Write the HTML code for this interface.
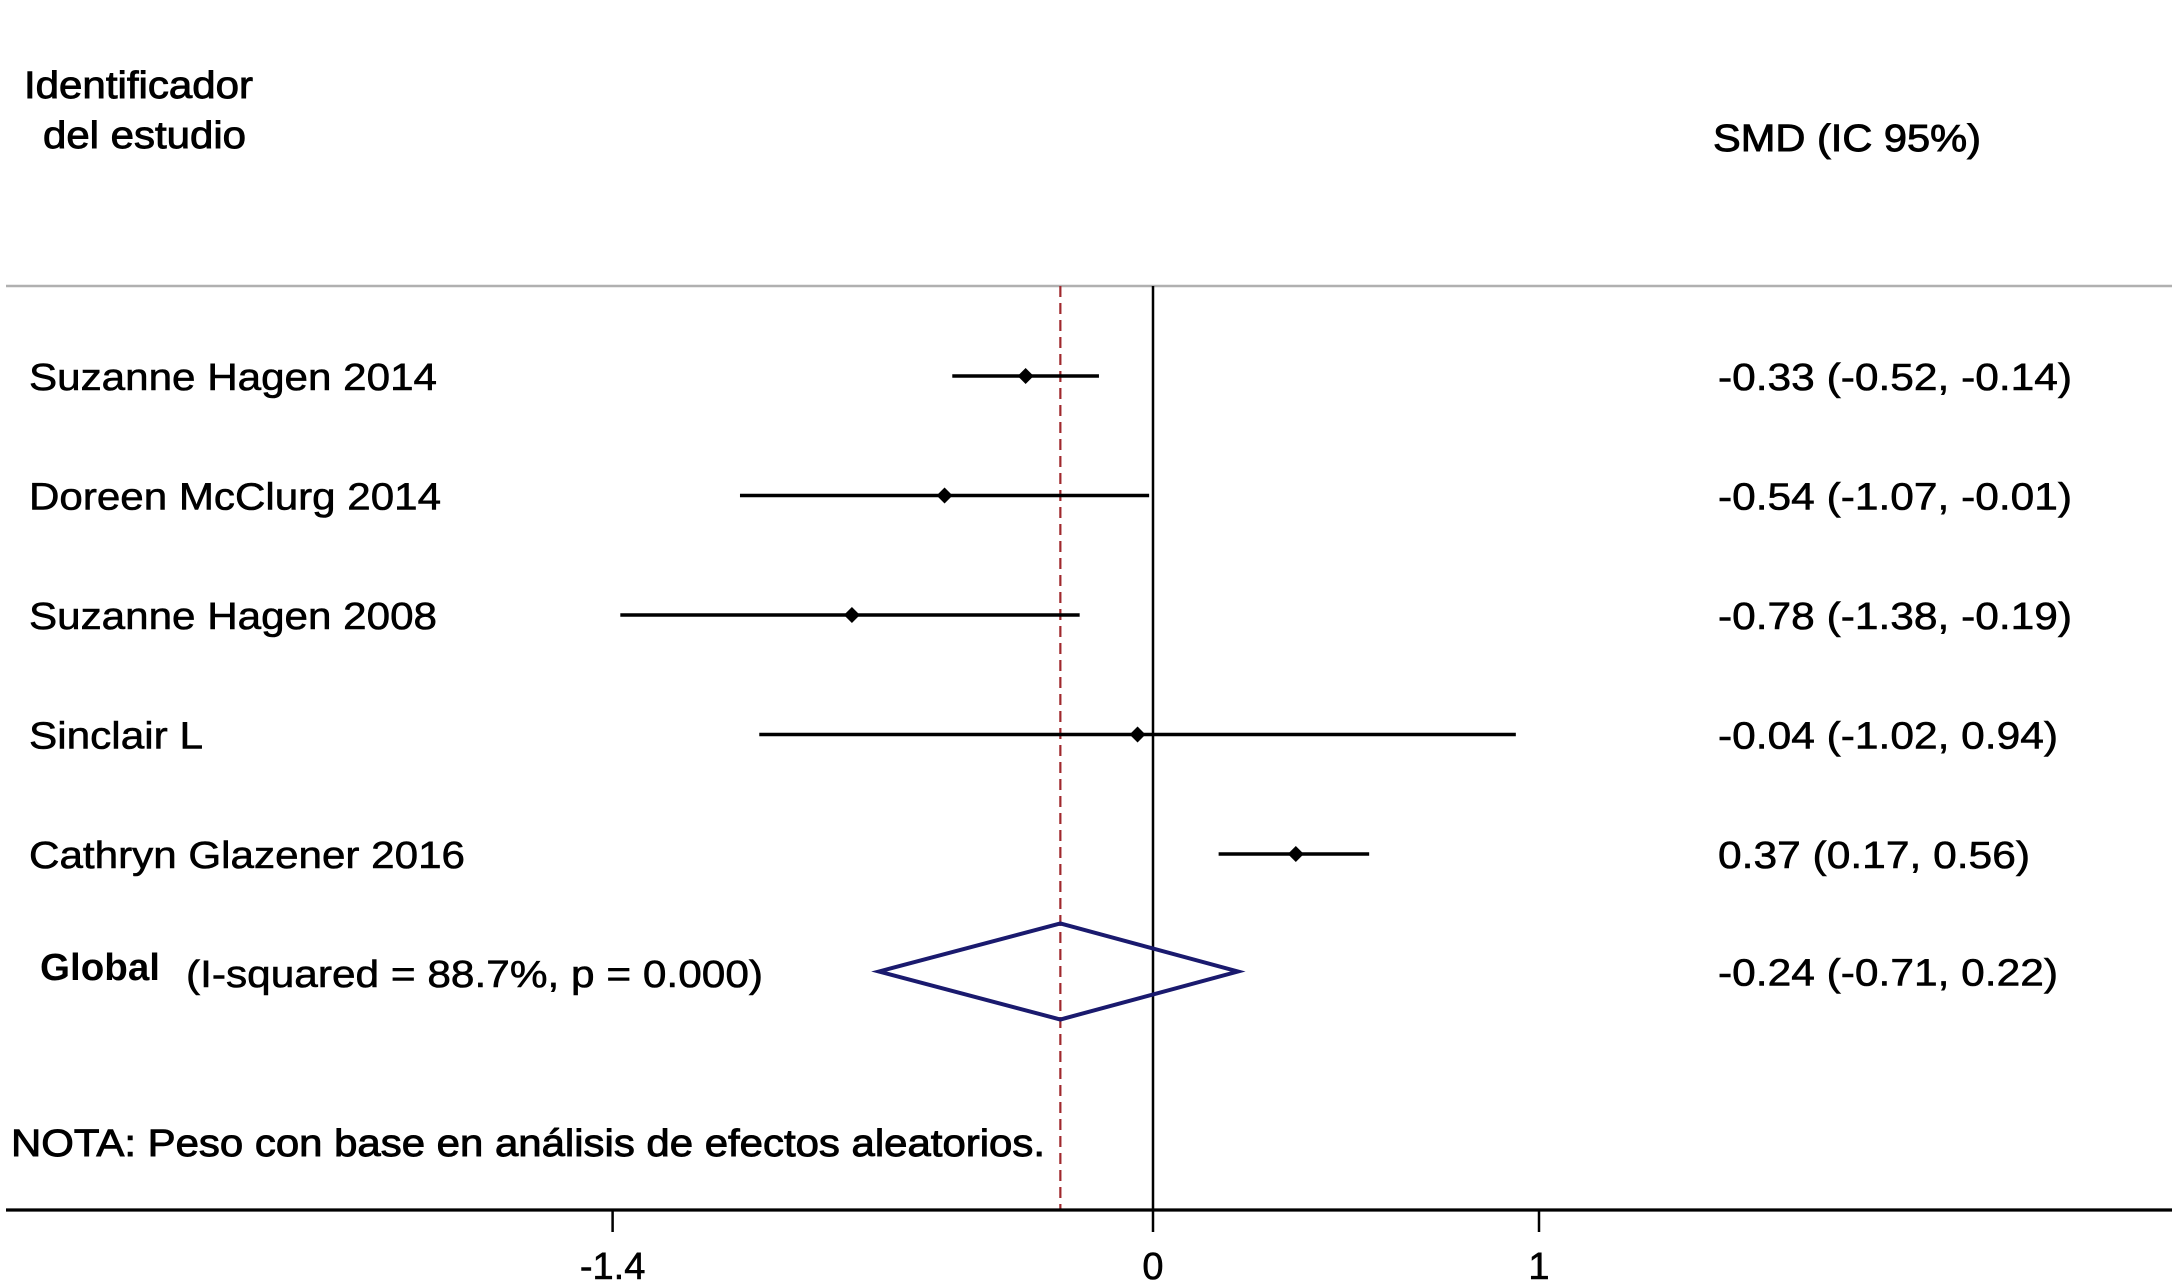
<!DOCTYPE html>
<html><head><meta charset="utf-8"><style>
html,body{margin:0;padding:0;background:#fff;}
svg{display:block;font-family:"Liberation Sans",Arial,sans-serif;}
svg text{stroke:#000;stroke-width:0.6;}
</style></head><body>
<svg id="chart" width="2175" height="1285" viewBox="0 0 2175 1285" xmlns="http://www.w3.org/2000/svg">
<rect width="2175" height="1285" fill="#fff"/>
<text x="24" y="98" font-size="38" textLength="229" lengthAdjust="spacingAndGlyphs" style="stroke-width:0.9">Identificador</text>
<text x="43" y="148" font-size="38" textLength="203" lengthAdjust="spacingAndGlyphs" style="stroke-width:0.9">del estudio</text>
<text x="1713" y="151" font-size="38" textLength="268" lengthAdjust="spacingAndGlyphs" style="stroke-width:0.9">SMD (IC 95%)</text>
<line x1="6" y1="286" x2="2172" y2="286" stroke="#b0b0b0" stroke-width="2.5"/>
<g id="marks"></g>
<text x="40" y="980" font-size="38" font-weight="bold" textLength="120" lengthAdjust="spacingAndGlyphs" style="stroke-width:0">Global</text>
<text x="186" y="987" font-size="38" textLength="577" lengthAdjust="spacingAndGlyphs">(I-squared = 88.7%, p = 0.000)</text>
<text x="11" y="1156" font-size="38" textLength="1034" lengthAdjust="spacingAndGlyphs" style="stroke-width:0.9">NOTA: Peso con base en análisis de efectos aleatorios.</text>
</svg>
<script>
const studies = ["Suzanne Hagen 2014","Doreen McClurg 2014","Suzanne Hagen 2008","Sinclair L","Cathryn Glazener 2016"];
const est = [-0.33,-0.54,-0.78,-0.04,0.37];
const lo = [-0.52,-1.07,-1.38,-1.02,0.17];
const hi = [-0.14,-0.01,-0.19,0.94,0.56];
const ciText = ["-0.33 (-0.52, -0.14)","-0.54 (-1.07, -0.01)","-0.78 (-1.38, -0.19)","-0.04 (-1.02, 0.94)","0.37 (0.17, 0.56)"];
const pooled = [-0.24,-0.71,0.22];
const pooledText = "-0.24 (-0.71, 0.22)";
const ticks = [-1.4,0,1];
const tickLabels = ["-1.4","0","1"];

const NS="http://www.w3.org/2000/svg";
const g=document.getElementById('marks');
const X=v=>1153+v*386;
const rowY=i=>376+i*119.5;
function mk(t,a,p){const e=document.createElementNS(NS,t);for(const k in a)e.setAttribute(k,a[k]);(p||g).appendChild(e);return e;}
const nameW=[408,412,408,174,436];
const ciW=[354,354,354,340,312];
let l=mk('line',{x1:X(0),y1:286,x2:X(0),y2:1210,stroke:'#000','stroke-width':2.5});


l=mk('line',{x1:X(pooled[0]),y1:286,x2:X(pooled[0]),y2:1210,stroke:'#a0282d','stroke-width':2.2,'stroke-dasharray':'11,6'});


studies.forEach((s,i)=>{
  const y=rowY(i);
  let t=mk('text',{x:29,y:y+14,'font-size':38,textLength:nameW[i],lengthAdjust:'spacingAndGlyphs'});t.textContent=s;
  
  
  let c=mk('line',{x1:X(lo[i]),y1:y,x2:X(hi[i]),y2:y,stroke:'#000','stroke-width':3.6});
  
  
  const px=X(est[i]);
  let d=mk('polygon',{points:`${px-8},${y} ${px},${y-8} ${px+8},${y} ${px},${y+8}`,fill:'#000'});
  
  
  let r=mk('text',{x:1718,y:y+14,'font-size':38,textLength:ciW[i],lengthAdjust:'spacingAndGlyphs'});r.textContent=ciText[i];
  
  
});
const gy=rowY(5)-2;
let dm=mk('polygon',{points:`${X(pooled[1])},${gy} ${X(pooled[0])},${gy-48} ${X(pooled[2])},${gy} ${X(pooled[0])},${gy+48}`,fill:'none',stroke:'#1a1a6e','stroke-width':4});


let pt=mk('text',{x:1718,y:gy+14,'font-size':38,textLength:340,lengthAdjust:'spacingAndGlyphs'});pt.textContent=pooledText;


let ax=mk('line',{x1:6,y1:1210,x2:2172,y2:1210,stroke:'#000','stroke-width':3.2});


ticks.forEach((v,i)=>{
  let tk=mk('line',{x1:X(v),y1:1210,x2:X(v),y2:1232,stroke:'#000','stroke-width':2.5});
  
  
  let tl=mk('text',{x:X(v),y:1279,'font-size':38,'text-anchor':'middle'});tl.textContent=tickLabels[i];
  
  
});
</script>
</body></html>
